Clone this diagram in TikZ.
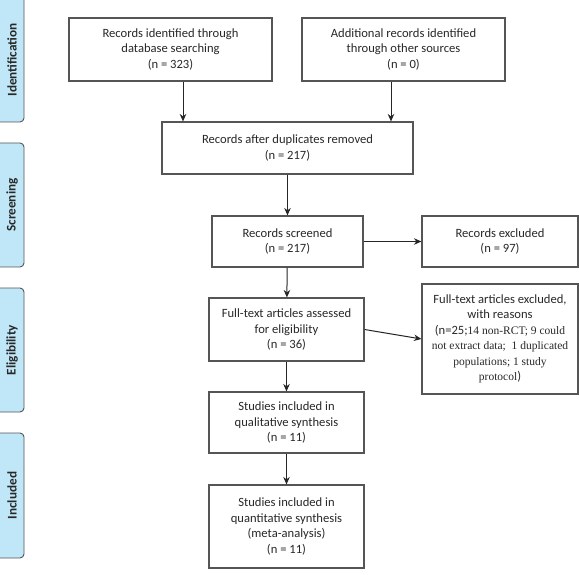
\documentclass[tikz,border=0pt]{standalone}
\usepackage{fontspec}
\setmainfont{Carlito}
\newfontfamily\timesfont{Liberation Serif}
\newcommand{\tms}[1]{{\timesfont\fontsize{11.5}{15}\selectfont #1}}
\usepackage{tikz}
\usetikzlibrary{positioning, calc}
\usetikzlibrary{arrows.meta}

\definecolor{tabblue}{RGB}{192,231,248}
\definecolor{lineGray}{RGB}{85,85,85}
\definecolor{textGray}{RGB}{40,40,40}

\tikzset{
  flowbox/.style={draw=lineGray, line width=1.1pt, fill=white, align=center,
    inner sep=2pt, text=textGray, font=\fontsize{12.6}{15.5}\selectfont},
  phasetab/.style={draw=lineGray, line width=0.9pt, fill=tabblue, rounded corners=4pt},
  phaselabel/.style={rotate=90, font=\bfseries\fontsize{13.2}{15}\selectfont, text=textGray},
  arr/.style={-{Stealth[length=7.5pt,width=6.5pt]}, line width=1pt, draw=black!85}
}

\begin{document}
\begin{tikzpicture}[x=1pt,y=-1pt]
  \useasboundingbox (0,0) rectangle (579,575);
  % phase tabs on the left
  \draw[phasetab] (-10,-10) rectangle (24,122);
  \draw[phasetab] (-10,143) rectangle (24,267);
  \draw[phasetab] (-10,288) rectangle (24,412);
  \draw[phasetab] (-10,433) rectangle (24,558);
  \node[phaselabel] (tabid) at (12,60) {Identification};
  \node[phaselabel] (tabscr) at (12,205) {Screening};
  \node[phaselabel] (tabelg) at (12,350) {Eligibility};
  \node[phaselabel] (tabinc) at (12,495.5) {Included};

  % boxes
  \node[flowbox, minimum width=203pt, minimum height=63pt] (dbrec) at (170.5,49.5)
    {Records identified through\\ database searching\\ (n = 323)};
  \node[flowbox, minimum width=203pt, minimum height=63pt] (othrec) at (403.5,49.5)
    {Additional records identified\\ through other sources\\ (n = 0)};
  \node[flowbox, minimum width=251pt, minimum height=52pt] (dedup) at (287.5,148)
    {Records after duplicates removed\\ (n = 217)};
  \node[flowbox, minimum width=151pt, minimum height=51pt] (screen) at (287.5,241.5)
    {Records screened\\ (n = 217)};
  \node[flowbox, minimum width=156pt, minimum height=51pt] (excl) at (500,241.5)
    {Records excluded\\ (n = 97)};
  \node[flowbox, minimum width=155pt, minimum height=63pt] (fulltext) at (286.5,329.5)
    {Full-text articles assessed\\ for eligibility\\ (n = 36)};
  \node[flowbox, minimum width=156pt, minimum height=110pt] (fullexcl) at (500,339)
    {Full-text articles excluded,\\ with reasons\\
     (n=25;\tms{14 non-RCT; 9 could}\\ \tms{not extract data;~~1 duplicated}\\
     \tms{populations; 1 study}\\ \tms{protocol})};
  \node[flowbox, minimum width=155pt, minimum height=61pt] (qual) at (286.5,422.5)
    {Studies included in\\ qualitative synthesis\\ (n = 11)};
  \node[flowbox, minimum width=155pt, minimum height=83pt] (quant) at (286.5,526.5)
    {Studies included in\\ quantitative synthesis\\ (meta-analysis)\\ (n = 11)};

  % arrows
  \draw[arr] ([xshift=12.5pt]dbrec.south) -- ([xshift=12.5pt]dbrec.south |- dedup.north);
  \draw[arr] ([xshift=-12.5pt]othrec.south) -- ([xshift=-12.5pt]othrec.south |- dedup.north);
  \draw[arr] (dedup) -- (screen);
  \draw[arr] (screen) -- (excl);
  \draw[arr] (screen) -- (fulltext);
  \draw[arr] (fulltext.east) -- (fullexcl.west);
  \draw[arr] (fulltext) -- (qual);
  \draw[arr] (qual) -- (quant);
\end{tikzpicture}
\end{document}
